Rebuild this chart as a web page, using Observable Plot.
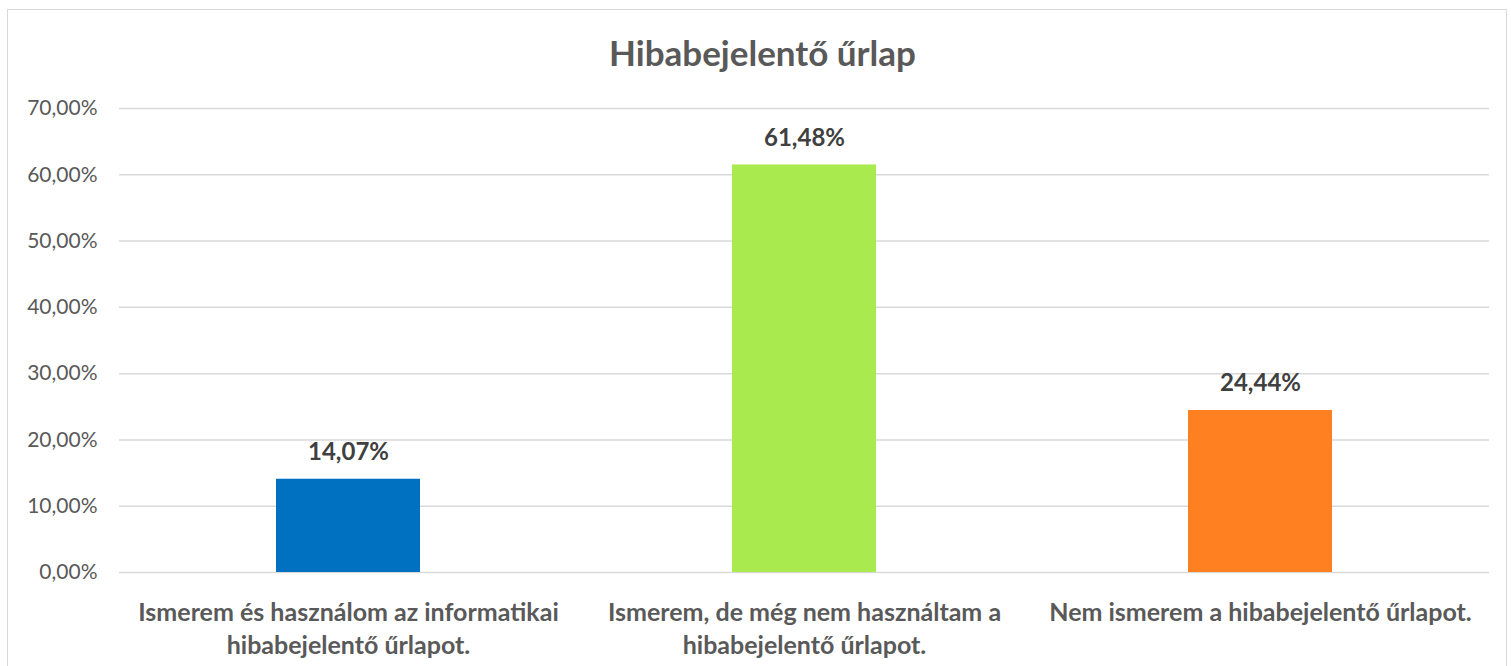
<!DOCTYPE html>
<html>
<head>
<meta charset="utf-8">
<script src="https://cdn.jsdelivr.net/npm/d3@7"></script>
<script src="https://cdn.jsdelivr.net/npm/@observablehq/plot@0.6"></script>
<style>
  html, body { margin: 0; padding: 0; background: #fff; width: 1511px; height: 666px; overflow: hidden; }
  #frame { position: absolute; left: 7px; top: 9px; width: 1500px; height: 680px; border: 1px solid #d9d9d9; box-sizing: border-box; }
  #title { position: absolute; left: 0; width: 1525px; top: 31px; text-align: center; font-family: Lato, sans-serif; font-weight: 700; font-size: 35px; color: #595959; }
  #chart { position: absolute; left: 0; top: 0; }
</style>
</head>
<body>
<div id="frame"></div>
<div id="title">Hibabejelentő űrlap</div>
<div id="chart"></div>
<script>
const categories = [
  "Ismerem és használom az informatikai\nhibabejelentő űrlapot.",
  "Ismerem, de még nem használtam a\nhibabejelentő űrlapot.",
  "Nem ismerem a hibabejelentő űrlapot."
];
const values = [0.1407, 0.6148, 0.2444];
const colors = ["#0070C0", "#A9EA4F", "#FF8021"];
const yTicks = [0, 0.1, 0.2, 0.3, 0.4, 0.5, 0.6, 0.7];

const data = categories.map((c, i) => ({category: c, value: values[i], color: colors[i]}));
const huLocale = d3.formatLocale({decimal: ",", thousands: " ", grouping: [3], currency: ["", " Ft"], percent: "%"});
const fmt = huLocale.format(".2%");

const chart = Plot.plot({
  width: 1511,
  height: 666,
  marginLeft: 119,
  marginRight: 22,
  marginTop: 108,
  marginBottom: 94,
  style: {fontFamily: "Lato, sans-serif", background: "transparent"},
  x: {domain: categories, padding: 0, label: null},
  y: {domain: [0, 0.7], label: null},
  marks: [
    Plot.ruleY(yTicks, {stroke: "#d9d9d9", strokeWidth: 1.5}),
    Plot.barY(data, {x: "category", y: "value", fill: "color", insetLeft: 156, insetRight: 156}),
    Plot.text(data, {x: "category", y: "value", text: d => fmt(d.value), dy: -19, lineAnchor: "bottom", fill: "#404040", fontWeight: 700, fontSize: 24}),
    Plot.axisY(yTicks, {tickSize: 0, tickPadding: 22, tickFormat: fmt, fill: "#595959", fontSize: 21, textAnchor: "end", label: null}),
    Plot.axisX({tickSize: 0, tickPadding: 25, fill: "#595959", fontSize: 25, fontWeight: 700, lineHeight: 1.32, lineAnchor: "top", label: null})
  ]
});
document.getElementById("chart").appendChild(chart);
</script>
</body>
</html>
